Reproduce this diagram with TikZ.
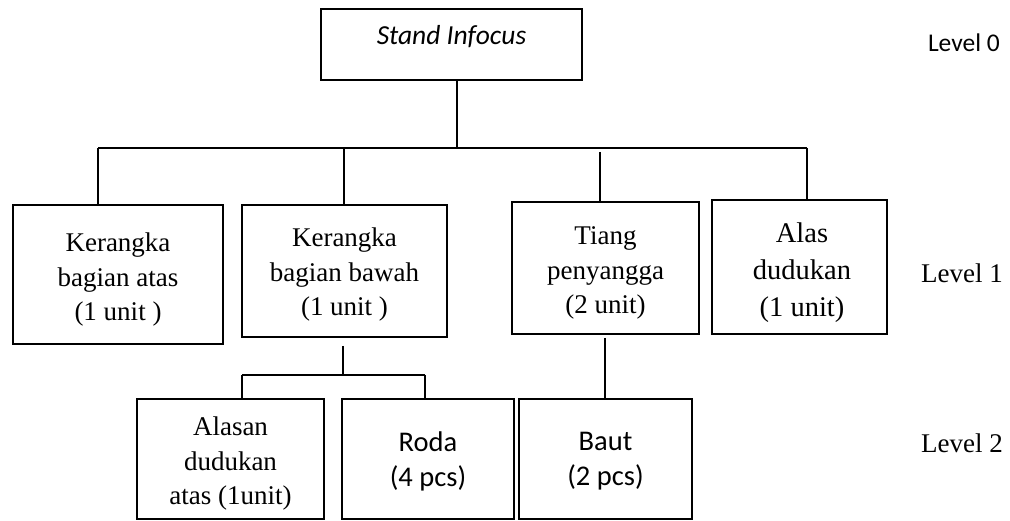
\documentclass[tikz,border=0pt]{standalone}
\usepackage{fontspec}
\setmainfont{Liberation Serif}
\newfontfamily\calib{Carlito}
\newfontfamily\serf{Liberation Serif}
\begin{document}
\begin{tikzpicture}[x=1pt,y=-1pt,
  box/.style={draw, line width=2.2pt, inner sep=0pt},
  ser/.style={align=center, inner sep=0pt, font=\serf\fontsize{27}{34.5}\selectfont},
  san/.style={align=center, inner sep=0pt, font=\calib\fontsize{28.5}{35}\selectfont},
  conn/.style={line width=2.2pt}]
\useasboundingbox (0,0) rectangle (1010,521);
% level 0
\node[box,minimum width=261pt,minimum height=71pt] (top) at (451.5,44.5) {};
\node[san,font=\calib\itshape\fontsize{27.5}{35}\selectfont] (topt) at (451.5,37) {Stand Infocus};
% level 1
\node[box,minimum width=210pt,minimum height=139pt] (n1) at (118,274.5) {};
\node[ser] (n1t) at (118,280) {Kerangka\\bagian atas\\(1 unit )};
\node[box,minimum width=205pt,minimum height=132pt] (n2) at (344.5,271) {};
\node[ser] (n2t) at (344.5,275) {Kerangka\\bagian bawah\\(1 unit )};
\node[box,minimum width=187pt,minimum height=132pt] (n3) at (605.5,268) {};
\node[ser] (n3t) at (605.5,273) {Tiang\\penyangga\\(2 unit)};
\node[box,minimum width=175pt,minimum height=134pt] (n4) at (799.5,267) {};
\node[ser,font=\serf\fontsize{28.5}{37}\selectfont] (n4t) at (802,273) {Alas\\dudukan\\(1 unit)};
% level 2
\node[box,minimum width=187pt,minimum height=120pt] (a) at (230.5,459) {};
\node[ser] (at) at (230.5,464) {Alasan\\dudukan\\atas (1unit)};
\node[box,minimum width=172pt,minimum height=120pt] (roda) at (428,459) {};
\node[san] (rodat) at (428,461) {Roda\\(4 pcs)};
\node[box,minimum width=173pt,minimum height=120pt] (baut) at (605.5,459) {};
\node[san] (bautt) at (605.5,461) {Baut\\(2 pcs)};
% level labels
\node[san,font=\calib\fontsize{25.5}{35}\selectfont,anchor=east] (l0) at (1000,43) {Level 0};
\node[ser,anchor=east] (l1) at (1003,273) {Level 1};
\node[ser,anchor=east] (l2) at (1003,443) {Level 2};
% connectors
\coordinate (t0) at (457,148);
\coordinate (hl) at (98,148);
\coordinate (hr) at (807,148);
\coordinate (h2) at (344,148);
\coordinate (h3) at (600,152);
\draw[conn] (t0) -- (t0 |- top.south);
\draw[conn] (hl) -- (hr);
\draw[conn] (hl) -- (hl |- n1.north);
\draw[conn] (h2) -- (h2 |- n2.north);
\draw[conn] (h3) -- (h3 |- n3.north);
\draw[conn] (hr) -- (hr |- n4.north);
\coordinate (b2) at (343,346);
\coordinate (b2m) at (343,375);
\coordinate (bl) at (242,375);
\coordinate (br) at (425,375);
\draw[conn] (b2) -- (b2m);
\draw[conn] (bl) -- (br);
\draw[conn] (bl) -- (bl |- a.north);
\draw[conn] (br) -- (br |- roda.north);
\coordinate (b3) at (605,338);
\draw[conn] (b3) -- (b3 |- baut.north);
\end{tikzpicture}
\end{document}
